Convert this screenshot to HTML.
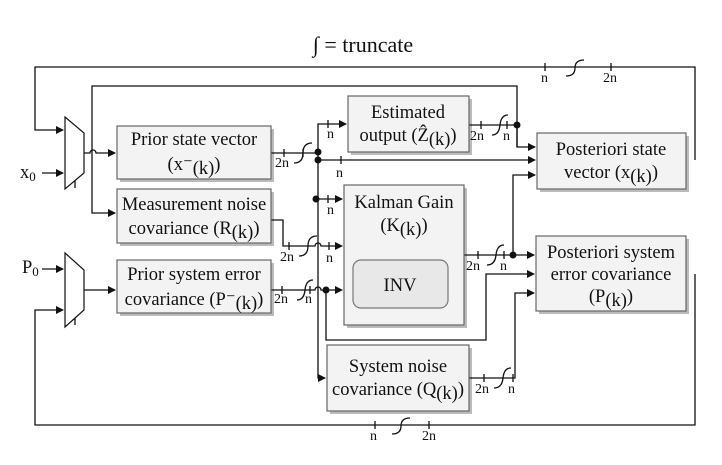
<!DOCTYPE html>
<html><head><meta charset="utf-8"><style>
body{margin:0;background:#fff}
svg{display:block}
text{font-family:"Liberation Serif",serif;fill:#111}
.b{fill:#f3f3f3;stroke:#666;stroke-width:1.2}
.w{fill:none;stroke:#111;stroke-width:1.3}
.t{font-size:18.5px}
.s{font-size:13px}
</style></head><body>
<svg width="722" height="465" viewBox="0 0 722 465">
<defs><marker id="a" markerWidth="8" markerHeight="8" refX="7" refY="4" orient="auto" markerUnits="userSpaceOnUse"><path d="M0,0L8,4L0,8z" fill="#111"/></marker></defs>
<text x="363" y="52" text-anchor="middle" font-size="22">∫ = truncate</text>
<g fill="#bbb">
<rect x="120" y="129" width="154" height="53"/><rect x="120" y="192" width="154" height="54"/><rect x="120" y="263" width="154" height="53"/>
<rect x="351" y="99" width="121" height="56"/><rect x="540" y="136" width="149" height="56"/><rect x="347" y="188" width="120" height="140"/>
<rect x="539" y="239" width="150" height="75"/><rect x="330" y="348" width="142" height="66"/></g>
<g>
<path class="w" d="M695,160V67H35V130H63" marker-end="url(#a)"/>
<path class="w" d="M84,153H90A3,3 0 0 1 96,153H115" marker-end="url(#a)"/>
<path class="w" d="M92,153V86H517V147H535" marker-end="url(#a)"/>
<path class="w" d="M92,153V213H115" marker-end="url(#a)"/>
<path class="w" d="M42,173H63" marker-end="url(#a)"/>
<path class="w" d="M42,269H63" marker-end="url(#a)"/>
<path class="w" d="M84,290H115" marker-end="url(#a)"/>
<path class="w" d="M695,274V425H35V310H63" marker-end="url(#a)"/>
<path class="w" d="M271,153H318"/>
<path class="w" d="M318,152V124H346" marker-end="url(#a)"/>
<path class="w" d="M318,160H535" marker-end="url(#a)"/>
<path class="w" d="M318,152V378H325" marker-end="url(#a)"/>
<path class="w" d="M316,199H342" marker-end="url(#a)"/>
<path class="w" d="M271,220H283V246H315A3,3 0 0 1 321,246H342" marker-end="url(#a)"/>
<path class="w" d="M271,290H315A3,3 0 0 1 321,290H342" marker-end="url(#a)"/>
<path class="w" d="M326,290V340H486V274H534" marker-end="url(#a)"/>
<path class="w" d="M469,125H517V147"/>
<path class="w" d="M464,255H534" marker-end="url(#a)"/>
<path class="w" d="M513,255V175H535" marker-end="url(#a)"/>
<path class="w" d="M469,378H515V293H534" marker-end="url(#a)"/>
</g>
<g class="w">
<path d="M284,149V157M303,149V157M328,120V128M341,156V164M328,195V203M289,242V250M329,242V250M282,286V294M310,286V294M481,121V129M507,121V129M478,251V259M504,251V259M484,374V382M513,374V382M545,63V71M611,63V71M375,421V429M429,421V429"/>
</g>
<g fill="#111">
<circle cx="318" cy="152" r="3.5"/><circle cx="318" cy="160" r="3.5"/><circle cx="316" cy="199" r="3.5"/><circle cx="326" cy="290" r="3.5"/><circle cx="517" cy="125" r="3.5"/><circle cx="513" cy="255" r="3.5"/></g>
<g>
<path d="M65,117L84,133V173L65,189Z" fill="#fff" stroke="#111" stroke-width="1.2"/>
<path d="M65,253L84,270V310L65,327Z" fill="#fff" stroke="#111" stroke-width="1.2"/>
<path class="w" d="M75,181V188M75,318V325"/>
</g>
<text x="20" y="178" class="t">x<tspan class="s" dy="3">0</tspan></text>
<text x="22" y="273" class="t">P<tspan class="s" dy="3">0</tspan></text>
<g><rect class="b" x="117" y="126" width="154" height="53"/>
<text x="194" y="145" class="t" text-anchor="middle">Prior state vector</text><text x="194" y="170" class="t" text-anchor="middle">(x⁻<tspan dy="4">(k)</tspan><tspan dy="-4">)</tspan></text></g>
<g><rect class="b" x="117" y="189" width="154" height="54"/>
<text x="194" y="210" class="t" text-anchor="middle">Measurement noise</text><text x="194" y="234" class="t" text-anchor="middle">covariance (R<tspan dy="4">(k)</tspan><tspan dy="-4">)</tspan></text></g>
<g><rect class="b" x="117" y="260" width="154" height="53"/>
<text x="194" y="280" class="t" text-anchor="middle">Prior system error</text><text x="194" y="305" class="t" text-anchor="middle">covariance (P⁻<tspan dy="4">(k)</tspan><tspan dy="-4">)</tspan></text></g>
<g><rect class="b" x="348" y="96" width="121" height="56"/>
<text x="408" y="118" class="t" text-anchor="middle">Estimated</text><text x="408" y="141" class="t" text-anchor="middle">output (Ẑ<tspan dy="4">(k)</tspan><tspan dy="-4">)</tspan></text></g>
<g><rect class="b" x="537" y="133" width="149" height="56"/>
<text x="611" y="155" class="t" text-anchor="middle">Posteriori state</text><text x="611" y="178" class="t" text-anchor="middle">vector (x<tspan dy="4">(k)</tspan><tspan dy="-4">)</tspan></text></g>
<g><rect class="b" x="344" y="185" width="120" height="140"/>
<text x="404" y="208" class="t" text-anchor="middle">Kalman Gain</text><text x="404" y="231" class="t" text-anchor="middle">(K<tspan dy="4">(k)</tspan><tspan dy="-4">)</tspan></text>
<rect x="353" y="260" width="95" height="48" rx="8" fill="#e8e8e8" stroke="#777" stroke-width="1.2"/><text x="400" y="291" class="t" text-anchor="middle">INV</text></g>
<g><rect class="b" x="536" y="236" width="150" height="75"/>
<text x="611" y="258" class="t" text-anchor="middle">Posteriori system</text><text x="611" y="280" class="t" text-anchor="middle">error covariance</text><text x="611" y="302" class="t" text-anchor="middle">(P<tspan dy="4">(k)</tspan><tspan dy="-4">)</tspan></text></g>
<g><rect class="b" x="327" y="345" width="142" height="66"/>
<text x="398" y="372" class="t" text-anchor="middle">System noise</text><text x="398" y="395" class="t" text-anchor="middle">covariance (Q<tspan dy="4">(k)</tspan><tspan dy="-4">)</tspan></text></g>
<g font-size="14">
<text x="275" y="167">2n</text><text x="327" y="138">n</text><text x="336" y="177">n</text><text x="327" y="214">n</text>
<text x="280" y="261">2n</text><text x="326" y="262">n</text><text x="274" y="303">2n</text><text x="305" y="303">n</text>
<text x="470" y="140">2n</text><text x="503" y="140">n</text><text x="466" y="270">2n</text><text x="500" y="270">n</text>
<text x="475" y="393">2n</text><text x="508" y="393">n</text>
<text x="541" y="82">n</text><text x="603" y="82">2n</text><text x="370" y="440">n</text><text x="422" y="440">2n</text></g>
<g class="w" stroke-width="1.2" fill="none">
<path d="M566,76Q575,76 575,68T584,60"/><path d="M392,434Q401,434 401,426T410,418"/>
<path d="M294,163Q303,163 303,153T312,143"/><path d="M299,256Q308,256 308,246T317,236"/><path d="M297,300Q304,300 305,290T313,280"/>
<path d="M492,135Q499,135 500,125T508,115"/><path d="M487,265Q495,265 496,255T504,245"/><path d="M494,388Q502,388 503,378T511,368"/>
</g>
</svg>
</body></html>
